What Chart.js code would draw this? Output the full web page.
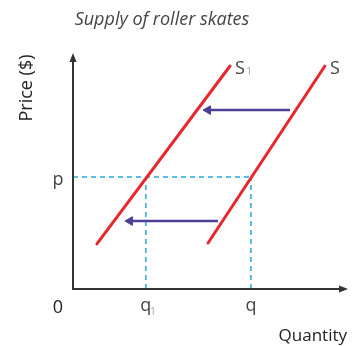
<!DOCTYPE html>
<html>
<head>
<meta charset="utf-8">
<script src="https://cdn.jsdelivr.net/npm/chart.js@4/dist/chart.umd.min.js"></script>
<style>
  html, body { margin: 0; padding: 0; background: #fff; }
  #wrap { width: 355px; height: 346px; position: relative; }
</style>
</head>
<body>
<div id="wrap"><canvas id="myChart"></canvas></div>
<script>
// curves, in axis units (0..10 each way)
let supplyS1 = [{x: 0.87, y: 1.91}, {x: 5.71, y: 9.45}];
let supplyS = [{x: 4.91, y: 1.95}, {x: 9.16, y: 9.45}];
let shiftTop = [{x: 7.89, y: 7.58}, {x: 4.91, y: 7.58}];
let shiftBottom = [{x: 5.27, y: 2.88}, {x: 2.07, y: 2.88}];

let priceLevel = 4.75;
let qtyTicks = [2.65, 6.47];
let qtyLabels = ['q', 'q'];
let qtySubs = ['1', ''];

let red = '#e8262d';
let purple = '#4d3f93';
let cyan = '#2aa7dd';
let axisColor = '#333333';
let font = '"Open Sans", "Noto Sans", sans-serif';

let ctx = document.getElementById('myChart').getContext('2d');

let dashP = [{x: 0, y: priceLevel}, {x: qtyTicks[1], y: priceLevel}];
let dashQ1 = [{x: qtyTicks[0], y: 0}, {x: qtyTicks[0], y: priceLevel}];
let dashQ = [{x: qtyTicks[1], y: 0}, {x: qtyTicks[1], y: priceLevel}];

function dashed(data) {
    return {data: data, showLine: true, borderColor: cyan, borderWidth: 1.5,
        borderDash: [5, 4], pointRadius: 0, order: 3};
}
function arrow(data) {
    return {data: data, showLine: true, borderColor: purple, backgroundColor: purple,
        borderWidth: 2.5, pointStyle: 'triangle', rotation: -90,
        pointRadius: [0, 5], pointBorderWidth: 1, order: 1};
}
function curve(data) {
    return {data: data, showLine: true, borderColor: red, borderWidth: 3,
        pointRadius: 0, borderCapStyle: 'round', order: 2};
}

let decorations = {
    id: 'decorations',
    afterDraw: (chart) => {
        let c = chart.ctx;
        let a = chart.chartArea;
        let xs = chart.scales.x;
        let ys = chart.scales.y;
        c.save();
        // axes with arrow heads
        c.strokeStyle = axisColor;
        c.fillStyle = axisColor;
        c.lineWidth = 2;
        c.beginPath();
        c.moveTo(a.left, a.top + 4);
        c.lineTo(a.left, a.bottom);
        c.lineTo(a.right - 4, a.bottom);
        c.stroke();
        c.beginPath();
        c.moveTo(a.left, a.top);
        c.lineTo(a.left - 3.5, a.top + 9);
        c.lineTo(a.left + 3.5, a.top + 9);
        c.closePath();
        c.fill();
        c.beginPath();
        c.moveTo(a.right, a.bottom);
        c.lineTo(a.right - 9, a.bottom - 3.5);
        c.lineTo(a.right - 9, a.bottom + 3.5);
        c.closePath();
        c.fill();

        // tick-like labels
        c.fillStyle = '#222';
        c.font = '18px ' + font;
        c.textAlign = 'center';
        c.textBaseline = 'middle';
        c.fillText('0', a.left - 15, a.bottom + 19);
        c.fillStyle = '#444';
        c.fillText('p', a.left - 15, ys.getPixelForValue(priceLevel) + 3);
        qtyTicks.forEach((v, i) => {
            let px = xs.getPixelForValue(v);
            c.font = '18px ' + font;
            c.fillStyle = '#444';
            c.fillText(qtyLabels[i], px, a.bottom + 17);
            if (qtySubs[i]) {
                c.font = '11px ' + font;
                c.fillStyle = '#aaa';
                c.fillText(qtySubs[i], px + 7, a.bottom + 23);
            }
        });

        // curve names
        c.textAlign = 'left';
        c.font = '18px ' + font;
        c.fillStyle = '#444';
        let s1 = supplyS1[1], s = supplyS[1];
        c.fillText('S', xs.getPixelForValue(s1.x) + 5, ys.getPixelForValue(s1.y) + 3);
        c.fillText('S', xs.getPixelForValue(s.x) + 5, ys.getPixelForValue(s.y) + 3);
        c.font = '11px ' + font;
        c.fillStyle = '#aaa';
        c.fillText('1', xs.getPixelForValue(s1.x) + 16, ys.getPixelForValue(s1.y) + 6);

        // axis titles and heading
        c.fillStyle = '#222';
        c.font = '17px ' + font;
        c.textAlign = 'right';
        c.fillText('Quantity', a.right - 1, a.bottom + 47);
        c.save();
        c.translate(27, 88);
        c.rotate(-Math.PI / 2);
        c.textAlign = 'center';
        c.font = '18px ' + font;
        c.fillText('Price ($)', 0, 0);
        c.restore();
        c.fillStyle = '#444';
        c.font = 'italic 18px ' + font;
        c.textAlign = 'center';
        c.fillText('Supply of roller skates', 162, 20);
        c.restore();
    }
};

let myChart = new Chart(ctx, {
    type: 'scatter',
    data: {
        datasets: [
            dashed(dashP), dashed(dashQ1), dashed(dashQ),
            curve(supplyS1), curve(supplyS),
            arrow(shiftTop), arrow(shiftBottom)
        ]
    },
    options: {
        responsive: true,
        maintainAspectRatio: false,
        animation: false,
        layout: {
            padding: {left: 73, right: 7, top: 53, bottom: 57}
        },
        scales: {
            x: {min: 0, max: 10, display: false},
            y: {min: 0, max: 10, display: false}
        },
        plugins: {
            legend: {display: false},
            tooltip: {enabled: false}
        }
    },
    plugins: [decorations]
});
</script>
</body>
</html>
